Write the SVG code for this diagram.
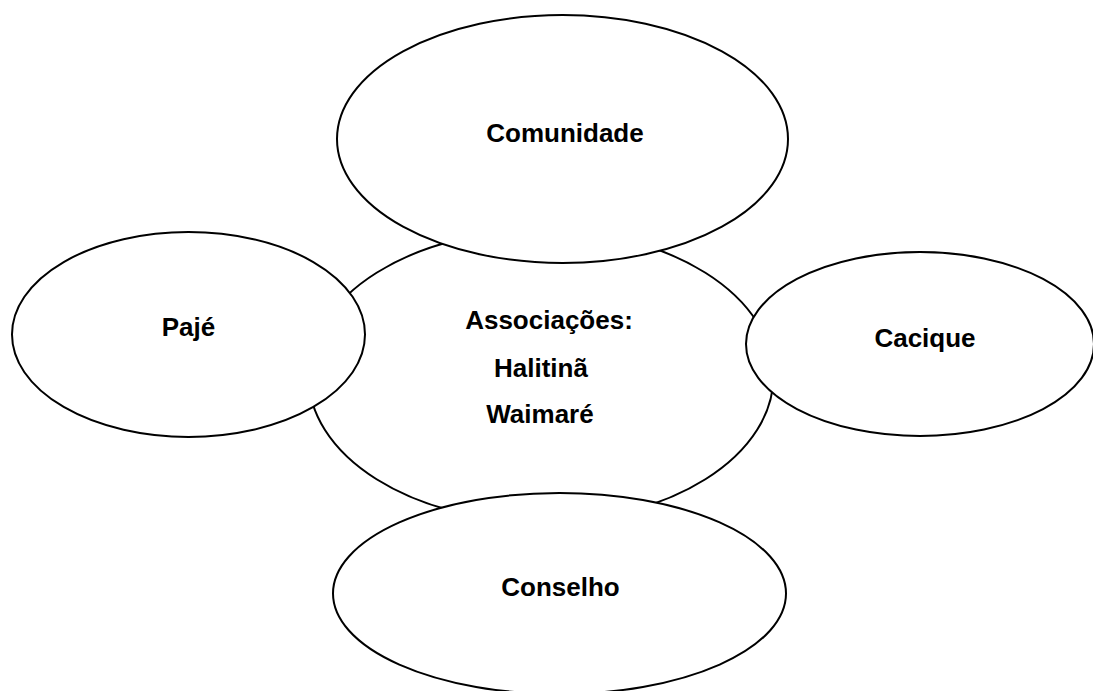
<svg xmlns="http://www.w3.org/2000/svg" width="1093" height="691" viewBox="0 0 1093 691">
<style>
.n{fill:#fff;stroke:#000;stroke-width:2}
.t{font-family:"Liberation Sans",Arial,sans-serif;font-weight:bold;font-size:26px;fill:#000;text-anchor:middle}
</style>
<rect width="1093" height="691" fill="#fff"/>
<g id="connectors"></g>
<g id="associacoes">
<ellipse class="n" cx="541" cy="376" rx="232.5" ry="146"/>
<text class="t" x="549" y="329">Associações:</text>
<text class="t" x="541" y="377">Halitinã</text>
<text class="t" x="540" y="423">Waimaré</text>
</g>
<g id="comunidade">
<ellipse class="n" cx="562.5" cy="139" rx="225.5" ry="124"/>
<text class="t" x="565" y="142">Comunidade</text>
</g>
<g id="paje">
<ellipse class="n" cx="188.5" cy="334.5" rx="176.5" ry="102.5"/>
<text class="t" x="188.5" y="336">Pajé</text>
</g>
<g id="cacique">
<ellipse class="n" cx="920" cy="344" rx="174" ry="92"/>
<text class="t" x="925" y="347">Cacique</text>
</g>
<g id="conselho">
<ellipse class="n" cx="559.5" cy="593.5" rx="226.5" ry="100.5"/>
<text class="t" x="560.5" y="596">Conselho</text>
</g>
</svg>
